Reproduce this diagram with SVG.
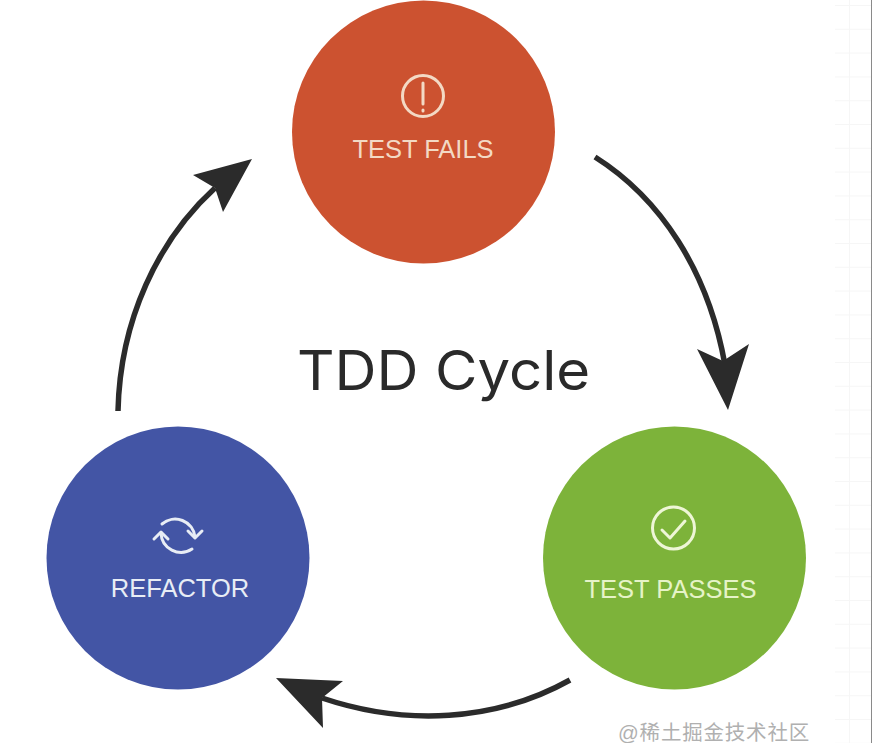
<svg xmlns="http://www.w3.org/2000/svg" width="872" height="743" viewBox="0 0 872 743">
<defs>
<pattern id="grid" patternUnits="userSpaceOnUse" x="835" y="5" width="37" height="23.800">
<rect width="37" height="1" fill="#f6f6f6"/>
<rect x="14" width="1" height="23.800" fill="#f6f6f6"/>
</pattern>
</defs>
<style>
.bg{fill:#fff}
.lbl{font-family:"Liberation Sans",Arial,sans-serif;font-size:25.500px;text-anchor:middle}
.ico{fill:none;stroke-width:3;stroke-linecap:round;stroke-linejoin:round}
.arc{fill:none;stroke:#2b2b2b;stroke-width:5.500}
.head{fill:#2b2b2b}
.title{font-family:Inter,"Noto Sans",sans-serif;font-weight:400;font-size:55px;fill:#2a2a2a}
.mark{font-family:"Liberation Sans","Noto Sans CJK SC",sans-serif;font-size:20.500px;letter-spacing:.8px;fill:#b0b0b0}
</style>
<rect class="bg" width="872" height="743"/>
<rect x="835" y="0" width="37" height="743" fill="url(#grid)"/>
<rect x="871" y="0" width="1" height="743" fill="#8a8a8a"/>
<g id="test-fails">
<circle cx="423.500" cy="132" r="131.500" fill="#cc5230"/>
<g class="ico" stroke="#f3d9c4">
<circle cx="423" cy="96" r="20.500"/>
<path d="M423 83V104M423 110V111"/>
</g>
<text class="lbl" x="423" y="158" fill="#f3d9c4">TEST FAILS</text>
</g>
<g id="test-passes">
<circle cx="674.500" cy="558" r="131.500" fill="#7db33a"/>
<g class="ico" stroke="#eef6d6">
<circle cx="673.500" cy="528" r="21"/>
<path d="M662 530L670 538L685 521"/>
</g>
<text class="lbl" x="670.500" y="598" fill="#e6f3c8">TEST PASSES</text>
</g>
<g id="refactor">
<circle cx="178" cy="558" r="131.500" fill="#4355a5"/>
<g class="ico" stroke="#e8edf5">
<path d="M162 524A20 20 0 0 1 195 537M192 549A20 20 0 0 1 161 533"/>
<path d="M188 531L195 538L202 531M154 539L161 532L168 539"/>
</g>
<text class="lbl" x="180" y="597" fill="#e8edf5">REFACTOR</text>
</g>
<g id="connectors">
<path class="arc" d="M595 157C660 198 708 270 725 365"/>
<path class="head" d="M728 410L697 349L723 361L749 344Z"/>
<path class="arc" d="M570 680C495 722 405 726 322 698"/>
<path class="head" d="M276 678L343 681L322 698L323 728Z"/>
<path class="arc" d="M118 411C120 320 158 240 215 188"/>
<path class="head" d="M252 159L193 175L215 188L223 212Z"/>
</g>
<text id="title" class="title" transform="translate(297 390) scale(1.058 1)">TDD Cycle</text>
<text id="watermark" class="mark" x="618" y="740">@稀土掘金技术社区</text>
</svg>
